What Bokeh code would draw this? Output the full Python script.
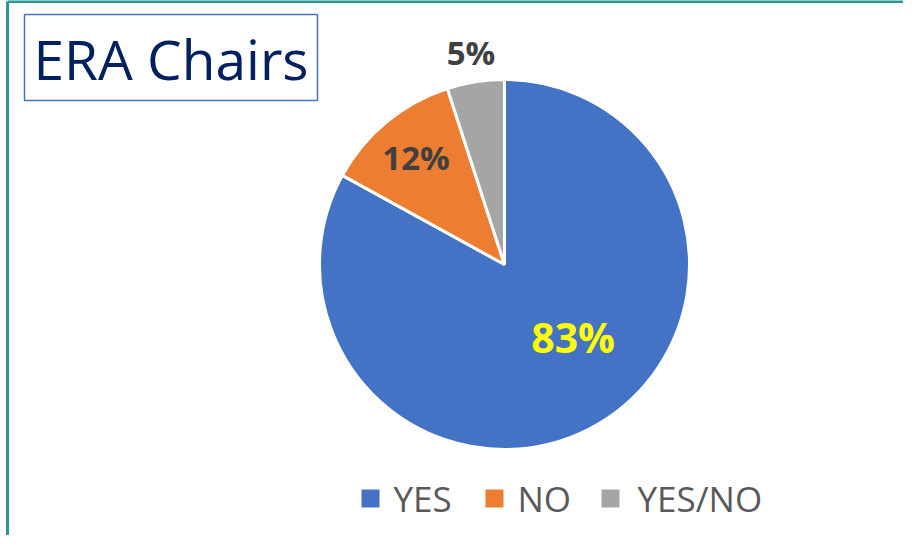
import math
from bokeh.plotting import figure
from bokeh.models import ColumnDataSource, Range1d
from bokeh.core.properties import value
from bokeh.embed import file_html
from bokeh.resources import INLINE

# ---- data ----
categories = ["YES", "NO", "YES/NO"]
shares = [83, 12, 5]
labels = ["83%", "12%", "5%"]
colors = ["#4472C4", "#ED7D31", "#A5A5A5"]
label_colors = ["#FFFF00", "#404040", "#404040"]
title_text = "ERA Chairs"

# ---- layout (pixels; figure coords, origin bottom-left) ----
W, H = 903, 535
CX, CY, R = 504, 271, 185
label_rfrac = [0.54, 0.75, 1.16]
label_ashift = [12.8, 0.0, 0.0]   # degrees
label_sizes = ["41px", "33px", "33px"]
legend_sq_x = [370, 494, 610]
legend_tx_x = [393, 517, 637]
legend_y = 37

p = figure(width=W, height=H, output_backend="svg", toolbar_location=None,
           x_range=Range1d(0, W), y_range=Range1d(0, H), min_border=0)
p.axis.visible = False
p.grid.visible = False
p.outline_line_color = None
p.background_fill_color = "white"
p.border_fill_color = "white"

# wedges
total = sum(shares)
starts, ends, mids = [], [], []
a = math.pi / 2
for s in shares:
    sweep = 2 * math.pi * s / total
    starts.append(a)
    ends.append(a - sweep)
    mids.append(a - sweep / 2)
    a -= sweep

src = ColumnDataSource(dict(x=[CX] * 3, y=[CY] * 3, start=starts, end=ends,
                            color=colors, cat=categories))
p.wedge(x="x", y="y", radius=R, radius_units="screen", start_angle="start",
        end_angle="end", direction="clock", fill_color="color",
        line_color="white", line_width=3, source=src)

# labels
lx, ly = [], []
for m, f, sh in zip(mids, label_rfrac, label_ashift):
    ang = m + math.radians(sh)
    lx.append(CX + f * R * math.cos(ang))
    ly.append(CY + f * R * math.sin(ang))
for i in range(3):
    p.text(x=[lx[i]], y=[ly[i]], text=[labels[i]], text_align="center",
           text_baseline="middle", text_font=value("Open Sans"),
           text_font_style="bold", text_font_size=label_sizes[i],
           text_color=label_colors[i])

# legend
lsrc = ColumnDataSource(dict(x=legend_sq_x, y=[legend_y] * 3, color=colors))
p.rect(x="x", y="y", width=18, height=18, width_units="screen",
       height_units="screen", fill_color="color", line_color=None, source=lsrc)
tsrc = ColumnDataSource(dict(x=legend_tx_x, y=[legend_y] * 3, t=categories))
p.text(x="x", y="y", text="t", text_align="left", text_baseline="middle",
       text_font=value("Open Sans"), text_font_size="35px",
       text_color="#595959", source=tsrc)

# title box
p.quad(left=[24], right=[317], bottom=[435], top=[521], fill_color="white",
       line_color="#4472C4", line_width=1.5)
p.text(x=[33], y=[477], text=[title_text], text_align="left",
       text_baseline="middle", text_font=value("Open Sans"),
       text_font_size="55px", text_color="#002060")

# outer teal frame
p.line(x=[7, 7], y=[0, 534], line_color="#2F9595", line_width=3)
p.line(x=[7, W], y=[534, 534], line_color="#2F9595", line_width=3)

open("out.html", "w").write(file_html(p, INLINE))
